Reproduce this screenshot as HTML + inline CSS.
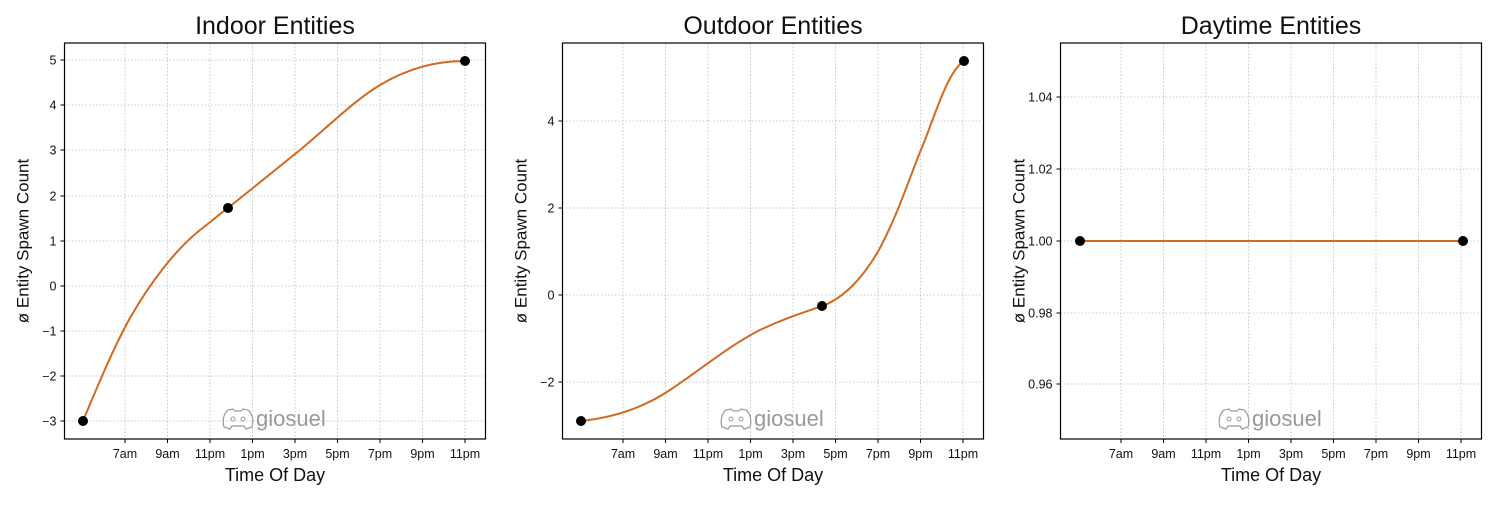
<!DOCTYPE html>
<html><head><meta charset="utf-8"><style>
body{margin:0;background:#fff;}
svg text{font-family:"Liberation Sans",sans-serif;fill:#111;}
</style></head><body>
<svg id="s" width="1500" height="500" xmlns="http://www.w3.org/2000/svg"></svg>
<script>
const s=document.getElementById('s');
let h='';
const xl=['7am','9am','11pm','1pm','3pm','5pm','7pm','9pm','11pm'];
const panels=[
 {x0:64.5,title:'Indoor Entities',yt:[[60,'5'],[105,'4'],[150,'3'],[196,'2'],[241,'1'],[286,'0'],[331,'\u22121'],[376,'\u22122'],[421,'\u22123']],
  curve:'M83,421 C100,380 115,345 130,318 C150,283 175,250 200,230 C212,221 222,212 228,208 C250,190 275,170 300,150 C330,125 355,100 380,85 C410,67 440,61 465,61',
  pts:[[83,421],[228,208],[465,61]]},
 {x0:562.5,title:'Outdoor Entities',yt:[[121,'4'],[208,'2'],[295,'0'],[382,'\u22122']],
  curve:'M581,421 C610,418 640,410 670,390 C700,370 730,345 760,330 C785,318 805,312 822,306 C845,298 865,275 880,248 C900,210 912,170 925,140 C940,100 950,70 964,61',
  pts:[[581,421],[822,306],[964,61]]},
 {x0:1060.5,title:'Daytime Entities',yt:[[97,'1.04'],[169,'1.02'],[241,'1.00'],[313,'0.98'],[384,'0.96']],
  curve:'M1080,241 L1463,241',pts:[[1080,241],[1463,241]]}
];
for(const p of panels){
 const L=p.x0,R=p.x0+421,T=43,B=439,off=L-64.5;
 for(let i=0;i<9;i++){const x=125+off+i*42.5;
  h+=`<line x1="${x}" y1="${T}" x2="${x}" y2="${B}" stroke="#bbb" stroke-width="0.8" stroke-dasharray="1.5,2"/>`;
  h+=`<line x1="${x}" y1="${B}" x2="${x}" y2="${B+4}" stroke="#000"/>`;
  h+=`<text x="${x}" y="${B+19}" font-size="12.5" text-anchor="middle">${xl[i]}</text>`;}
 for(const [y,t] of p.yt){
  h+=`<line x1="${L}" y1="${y}" x2="${R}" y2="${y}" stroke="#bbb" stroke-width="0.8" stroke-dasharray="1.5,2"/>`;
  h+=`<line x1="${L-4}" y1="${y}" x2="${L}" y2="${y}" stroke="#000"/>`;
  h+=`<text x="${L-8}" y="${y+4.5}" font-size="12.5" text-anchor="end">${t}</text>`;}
 h+=`<rect x="${L}" y="${T}" width="421" height="${B-T}" fill="none" stroke="#000" stroke-width="1.2"/>`;
 h+=`<text x="${(L+R)/2}" y="34" font-size="25" text-anchor="middle">${p.title}</text>`;
 h+=`<text x="${(L+R)/2}" y="481" font-size="18" text-anchor="middle">Time Of Day</text>`;
 h+=`<text transform="translate(${L-36},${(T+B)/2}) rotate(-90)" font-size="17" text-anchor="middle">ø Entity Spawn Count</text>`;
 const wx=222+off;
 h+=`<path d="M${wx+2},${427} C${wx},420 ${wx+2},413 ${wx+6},410 L${wx+11},409 L${wx+13},411 L${wx+19},411 L${wx+21},409 L${wx+26},410 C${wx+30},413 ${wx+32},420 ${wx+30},427 L${wx+24},429 L${wx+22},426 L${wx+10},426 L${wx+8},429 Z" fill="none" stroke="#999" stroke-width="1.2"/>`;
 h+=`<circle cx="${wx+11}" cy="419" r="2" fill="none" stroke="#999"/><circle cx="${wx+21}" cy="419" r="2" fill="none" stroke="#999"/>`;
 h+=`<text x="${wx+34}" y="426" font-size="22" style="fill:#999">giosuel</text>`;
 h+=`<path d="${p.curve}" fill="none" stroke="#d2691e" stroke-width="2"/>`;
 for(const [x,y] of p.pts)h+=`<circle cx="${x}" cy="${y}" r="5" fill="#000"/>`;
}
s.innerHTML=h;
</script>
</body></html>
